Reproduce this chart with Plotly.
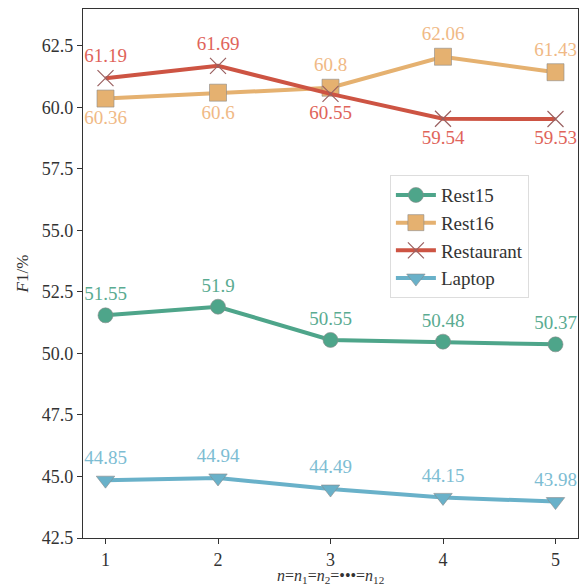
import plotly.graph_objects as go

# Shared n values on the x axis
n_values = [1, 2, 3, 4, 5]

# F1 scores (%) per dataset
rest15 = [51.55, 51.9, 50.55, 50.48, 50.37]
rest16 = [60.36, 60.6, 60.8, 62.06, 61.43]
restaurant = [61.19, 61.69, 60.55, 59.54, 59.53]
laptop = [44.85, 44.94, 44.49, 44.15, 43.98]

y_ticks = [42.5, 45.0, 47.5, 50.0, 52.5, 55.0, 57.5, 60.0, 62.5]

FONT = "Liberation Serif"

series = [
    dict(name="Rest15", y=rest15, color="#4ea58a", label="#5aab91",
         symbol="circle", size=15, pos=["top center"] * 5),
    dict(name="Rest16", y=rest16, color="#e5b170", label="#f0b985",
         symbol="square", size=17,
         pos=["bottom center", "bottom center", "top center", "top center", "top center"]),
    dict(name="Restaurant", y=restaurant, color="#cd5443", label="#e0645a",
         symbol="x-thin", size=16,
         pos=["top center", "top center", "bottom center", "bottom center", "bottom center"]),
    dict(name="Laptop", y=laptop, color="#69b1c9", label="#7dbdd3",
         symbol="triangle-down", size=16, pos=["top center"] * 5),
]

fig = go.Figure()
for s in series:
    marker = dict(symbol=s["symbol"], size=s["size"], color=s["color"],
                  line=dict(color="#8a8a8a", width=0.6))
    if s["symbol"] == "x-thin":
        marker["line"] = dict(color="#9a6060", width=1.2)
    fig.add_trace(go.Scatter(
        x=n_values, y=s["y"], name=s["name"],
        mode="lines+markers+text",
        line=dict(color=s["color"], width=4),
        marker=marker,
        text=[f"{v:g}" for v in s["y"]],
        textposition=s["pos"],
        textfont=dict(family=FONT, size=19, color=s["label"]),
        cliponaxis=False,
    ))

axis_common = dict(
    showline=True, mirror=True, linecolor="#333333", linewidth=1.2,
    ticks="outside", ticklen=5, tickcolor="#333333", showgrid=False,
    zeroline=False, automargin=False,
    tickfont=dict(family=FONT, size=18, color="#333333"),
)

fig.update_layout(
    width=581, height=585,
    margin=dict(l=83, r=3, t=9, b=47),
    paper_bgcolor="white", plot_bgcolor="white",
    showlegend=True,
    legend=dict(
        x=0.62, y=0.686, xanchor="left", yanchor="top",
        bgcolor="white", bordercolor="#dddddd", borderwidth=1,
        font=dict(family=FONT, size=19, color="#333333"),
        itemwidth=40, tracegroupgap=0,
    ),
    xaxis=dict(range=[0.8, 5.2], tickvals=n_values, **axis_common),
    yaxis=dict(range=[42.5, 64.0], tickvals=y_ticks,
               ticktext=[f"{v:.1f}" for v in y_ticks], **axis_common,
               title=dict(text="<i>F</i>1/%",
                          font=dict(family=FONT, size=17, color="#333333"),
                          standoff=8)),
    annotations=[dict(
        text="<i>n</i>=<i>n</i><sub>1</sub>=<i>n</i><sub>2</sub>=•••=<i>n</i><sub>12</sub>",
        xref="paper", yref="paper", x=0.5, y=-0.072,
        xanchor="center", yanchor="middle", showarrow=False,
        font=dict(family=FONT, size=16, color="#333333"),
    )],
)

fig.write_html("out.html")
